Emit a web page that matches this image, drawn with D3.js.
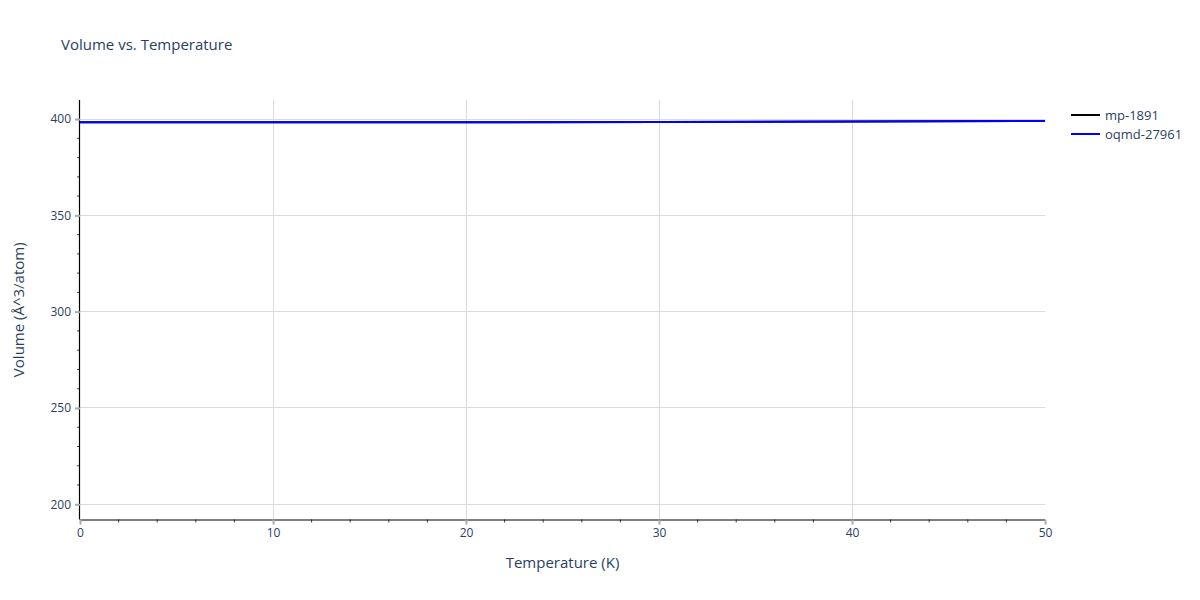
<!DOCTYPE html>
<html>
<head>
<meta charset="utf-8">
<script src="https://cdn.jsdelivr.net/npm/d3@7"></script>
<style>
  body { margin: 0; background: #fff; }
  svg text { font-family: "Open Sans", verdana, arial, sans-serif; fill: #2a3f5f; }
</style>
</head>
<body>
<svg id="chart" width="1200" height="600"></svg>
<script>
// temperatures (K) and volumes (Å^3/atom)
const temperatures = [0, 10, 20, 30, 40, 50];
const mpVolumes = [398.3, 398.3, 398.35, 398.45, 398.7, 399.05];
const oqmdVolumes = [398.3, 398.3, 398.35, 398.45, 398.7, 399.05];
const seriesNames = ['mp-1891', 'oqmd-27961'];
const seriesColors = ['black', 'blue'];
const xTicks = [0, 10, 20, 30, 40, 50];
const yTicks = [200, 250, 300, 350, 400];

const svg = d3.select('#chart');
const margin = {top: 100, right: 155, bottom: 80.5, left: 80};
const width = 1200 - margin.left - margin.right;
const height = 600 - margin.top - margin.bottom;

const x = d3.scaleLinear().domain([0, 50]).range([0, width]);
const y = d3.scaleLinear().domain([192.1, 409.9]).range([height, 0]);

const g = svg.append('g').attr('transform', `translate(${margin.left},${margin.top})`);

// grid
g.append('g').attr('shape-rendering', 'crispEdges')
  .selectAll('line').data(xTicks.slice(1, -1)).join('line')
  .attr('x1', d => x(d)).attr('x2', d => x(d))
  .attr('y1', 0).attr('y2', height)
  .attr('stroke', '#dcdcdc').attr('stroke-width', 1);
g.append('g').attr('shape-rendering', 'crispEdges')
  .selectAll('line').data(yTicks).join('line')
  .attr('x1', 0).attr('x2', width)
  .attr('y1', d => y(d)).attr('y2', d => y(d))
  .attr('stroke', '#dcdcdc').attr('stroke-width', 1);

// minor ticks
const xMinor = d3.range(0, 51, 2).filter(d => d % 10 !== 0);
g.append('g').selectAll('line').data(xMinor).join('line')
  .attr('x1', d => x(d)).attr('x2', d => x(d))
  .attr('y1', height).attr('y2', height + 3)
  .attr('stroke', '#444');
const yMinor = d3.range(200, 410, 10).filter(d => d % 50 !== 0);
g.append('g').selectAll('line').data(yMinor).join('line')
  .attr('x1', -3).attr('x2', 0)
  .attr('y1', d => y(d)).attr('y2', d => y(d))
  .attr('stroke', '#444');

// axes
const xAxis = g.append('g').attr('transform', `translate(0,${height})`)
  .call(d3.axisBottom(x).tickValues(xTicks).tickSize(5).tickPadding(4));
const yAxis = g.append('g')
  .call(d3.axisLeft(y).tickValues(yTicks).tickSize(5).tickPadding(4));
[xAxis, yAxis].forEach(a => {
  a.select('.domain').attr('stroke', 'black').attr('stroke-width', 1.2);
  a.selectAll('.tick line').attr('stroke', '#aaa').attr('stroke-width', 2);
  a.selectAll('.tick text').attr('font-size', 12).attr('fill', '#2a3f5f');
});
// redraw axis lines without the end caps
xAxis.select('.domain').attr('d', `M0,0.5H${width}`);
yAxis.select('.domain').attr('d', `M-0.5,${height}V0`);

// lines
const line = d3.line().x((d, i) => x(temperatures[i])).y(d => y(d));
[mpVolumes, oqmdVolumes].forEach((vals, i) => {
  g.append('path').datum(vals).attr('d', line)
    .attr('fill', 'none').attr('stroke', seriesColors[i]).attr('stroke-width', 2);
});

// titles
svg.append('text').attr('x', 61).attr('y', 50).attr('font-size', 15)
  .text('Volume vs. Temperature');
svg.append('text').attr('x', margin.left + width / 2).attr('y', 568)
  .attr('text-anchor', 'middle').attr('font-size', 15)
  .text('Temperature (K)');
svg.append('text')
  .attr('transform', `translate(24,${margin.top + height / 2}) rotate(-90)`)
  .attr('text-anchor', 'middle').attr('font-size', 15)
  .text('Volume (Å^3/atom)');

// legend
const legend = svg.append('g').attr('transform', 'translate(1071,115)');
seriesNames.forEach((name, i) => {
  const row = legend.append('g').attr('transform', `translate(0,${i * 19})`);
  row.append('line').attr('x1', 0).attr('x2', 29).attr('y1', 0).attr('y2', 0)
    .attr('stroke', seriesColors[i]).attr('stroke-width', 2);
  row.append('text').attr('x', 34).attr('y', 4.5).attr('font-size', 13).text(name);
});
</script>
</body>
</html>
